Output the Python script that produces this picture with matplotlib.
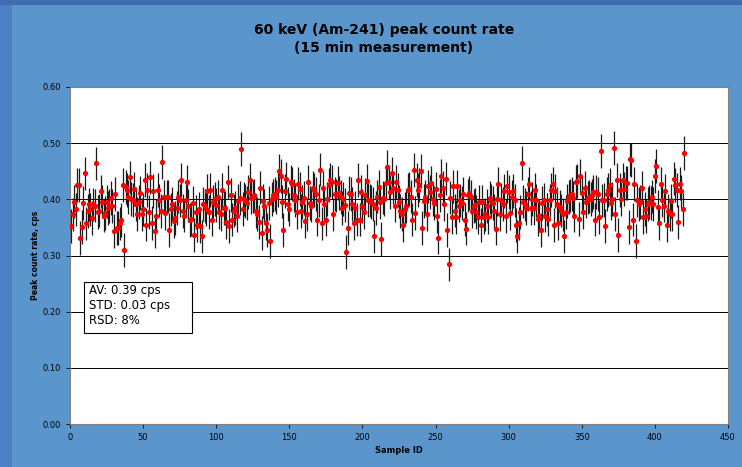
import numpy as np
import matplotlib
matplotlib.use("Agg")
import matplotlib.pyplot as plt
from matplotlib.patches import Rectangle

# peak count rate per sample (cps), samples 1..420
rate_01 = [0.352, 0.373, 0.396, 0.382, 0.425, 0.425, 0.331, 0.351, 0.393, 0.446,
           0.357, 0.379, 0.391, 0.382, 0.367, 0.391, 0.389, 0.464, 0.377, 0.380,
           0.414, 0.396, 0.371, 0.376, 0.396, 0.385, 0.388, 0.402, 0.388, 0.343,
           0.410, 0.349, 0.349, 0.357, 0.363, 0.425, 0.310]
rate_02 = [0.422, 0.416, 0.404, 0.439, 0.401, 0.399, 0.419, 0.392, 0.374, 0.395,
           0.411, 0.373, 0.382, 0.435, 0.355, 0.417, 0.377, 0.439, 0.358, 0.415,
           0.343, 0.371, 0.416, 0.398, 0.379, 0.467, 0.404, 0.376, 0.405, 0.405,
           0.346, 0.382, 0.392, 0.362, 0.367, 0.385, 0.405, 0.398, 0.434, 0.379]
rate_03 = [0.371, 0.398, 0.431, 0.389, 0.363, 0.365, 0.393, 0.337, 0.377, 0.354,
           0.383, 0.352, 0.334, 0.392, 0.388, 0.383, 0.415, 0.377, 0.417, 0.364,
           0.395, 0.401, 0.390, 0.404, 0.377, 0.373, 0.417, 0.385, 0.385, 0.360,
           0.431, 0.352, 0.408, 0.364, 0.380, 0.385, 0.371, 0.397, 0.402, 0.490,
           0.383]
rate_04 = [0.401, 0.397, 0.393, 0.413, 0.435, 0.403, 0.405, 0.407, 0.379, 0.374,
           0.360, 0.421, 0.340, 0.397, 0.389, 0.358, 0.345, 0.393, 0.326, 0.401,
           0.407, 0.410, 0.404, 0.417, 0.451, 0.441, 0.396, 0.346, 0.415, 0.437,
           0.392, 0.382, 0.431, 0.427, 0.407, 0.399, 0.377, 0.428]
rate_05 = [0.419, 0.379, 0.395, 0.402, 0.361, 0.373, 0.431, 0.393, 0.389, 0.421,
           0.416, 0.410, 0.364, 0.398, 0.453, 0.357, 0.421, 0.392, 0.364, 0.400,
           0.425, 0.434, 0.431, 0.373, 0.410, 0.407, 0.429, 0.411, 0.404, 0.385,
           0.401, 0.390, 0.306, 0.349, 0.411, 0.409, 0.392, 0.357, 0.385]
rate_06 = [0.364, 0.435, 0.364, 0.413, 0.388, 0.377, 0.408, 0.433, 0.399, 0.398,
           0.395, 0.392, 0.334, 0.385, 0.405, 0.422, 0.395, 0.330, 0.403, 0.400,
           0.429, 0.458, 0.431, 0.413, 0.446, 0.421, 0.389, 0.431, 0.417, 0.396,
           0.379, 0.374, 0.354, 0.383, 0.388, 0.416, 0.419, 0.405, 0.364, 0.452]
rate_07 = [0.376, 0.434, 0.416, 0.425, 0.451, 0.349, 0.397, 0.405, 0.374, 0.423,
           0.413, 0.429, 0.401, 0.393, 0.419, 0.370, 0.332, 0.407, 0.441, 0.421,
           0.392, 0.437, 0.346, 0.284, 0.403, 0.368, 0.423, 0.380, 0.368, 0.423,
           0.389, 0.398, 0.394, 0.409, 0.364, 0.348, 0.407, 0.411, 0.404, 0.379]
rate_08 = [0.388, 0.390, 0.377, 0.368, 0.395, 0.354, 0.395, 0.368, 0.373, 0.388,
           0.368, 0.403, 0.397, 0.393, 0.379, 0.348, 0.401, 0.428, 0.373, 0.399,
           0.392, 0.415, 0.370, 0.423, 0.413, 0.376, 0.404, 0.415, 0.398, 0.354,
           0.334, 0.357, 0.377, 0.465, 0.396, 0.391, 0.385, 0.409, 0.428, 0.385]
rate_09 = [0.401, 0.385, 0.417, 0.398, 0.365, 0.371, 0.346, 0.393, 0.399, 0.371,
           0.382, 0.365, 0.398, 0.417, 0.428, 0.354, 0.415, 0.392, 0.357, 0.387,
           0.380, 0.373, 0.334, 0.377, 0.397, 0.404, 0.407, 0.410, 0.403, 0.371,
           0.431, 0.433, 0.365, 0.441, 0.411, 0.377, 0.421, 0.396, 0.403]
rate_10 = [0.405, 0.401, 0.407, 0.413, 0.364, 0.413, 0.410, 0.369, 0.486, 0.398,
           0.399, 0.352, 0.409, 0.417, 0.425, 0.394, 0.401, 0.492, 0.374, 0.434,
           0.336, 0.417, 0.401, 0.435, 0.419, 0.429, 0.429, 0.351, 0.471, 0.470,
           0.364, 0.427, 0.326, 0.398, 0.392, 0.395, 0.421, 0.369, 0.383, 0.370]
rate_11 = [0.392, 0.395, 0.393, 0.405, 0.392, 0.441, 0.459, 0.386, 0.358, 0.428,
           0.398, 0.389, 0.415, 0.354, 0.380, 0.373, 0.397, 0.373, 0.437, 0.425,
           0.417, 0.360, 0.428, 0.414, 0.382, 0.483]

rate = np.array(rate_01 + rate_02 + rate_03 + rate_04 + rate_05 + rate_06
                + rate_07 + rate_08 + rate_09 + rate_10 + rate_11)
sample_id = np.arange(1, rate.size + 1)
rate_err = 0.03  # cps, error bar half length

stats_text = "AV: 0.39 cps\nSTD: 0.03 cps\nRSD: 8%"
title = "60 keV (Am-241) peak count rate\n(15 min measurement)"

bg = "#5a96cc"
fig = plt.figure(figsize=(7.42, 4.67), dpi=100, facecolor=bg)

# slide border strips
fig.patches.append(Rectangle((0, 0), 12 / 742, 1, transform=fig.transFigure,
                             facecolor="#4d80c2", edgecolor="none", zorder=0))
fig.patches.append(Rectangle((0, 1 - 5 / 467), 1, 5 / 467, transform=fig.transFigure,
                             facecolor="#3f6db0", edgecolor="none", zorder=0))

ax = fig.add_axes([70 / 742, 1 - 424 / 467, 658 / 742, 337 / 467])
ax.set_facecolor("white")

ax.errorbar(sample_id, rate, yerr=rate_err, fmt="o", color="red",
            markersize=3.8, markeredgewidth=0, ecolor="#1a1a1a",
            elinewidth=0.9, capsize=2.6, capthick=0.9, zorder=3)

ax.set_xlim(0, 450)
ax.set_ylim(0, 0.6)
ax.set_xticks(np.arange(0, 451, 50))
ax.set_yticks(np.arange(0, 0.61, 0.1))
ax.yaxis.set_major_formatter(matplotlib.ticker.FormatStrFormatter("%.2f"))
ax.tick_params(labelsize=6, length=3, width=0.6, colors="black")
ax.grid(axis="y", color="black", linewidth=0.7)
ax.set_axisbelow(True)
for s in ax.spines.values():
    s.set_color("#808080")
    s.set_linewidth(0.8)

ax.set_xlabel("Sample ID", fontsize=6, fontweight="bold", labelpad=3)
ax.set_ylabel("Peak count rate, cps", fontsize=5.5, fontweight="bold", labelpad=2)

# stats box
box = Rectangle((84 / 742, 1 - 333 / 467), 108 / 742, 51 / 467,
                transform=fig.transFigure, facecolor="white",
                edgecolor="black", linewidth=0.8, zorder=5)
fig.patches.append(box)
fig.text(89 / 742, 1 - 284 / 467, stats_text, fontsize=8.5, va="top",
         ha="left", linespacing=1.2, zorder=6)

fig.text(384 / 742, 1 - 39 / 467, title, ha="center", va="center",
         fontsize=10, fontweight="bold", linespacing=1.35)

fig.savefig("out.png", dpi=100, facecolor=bg)
